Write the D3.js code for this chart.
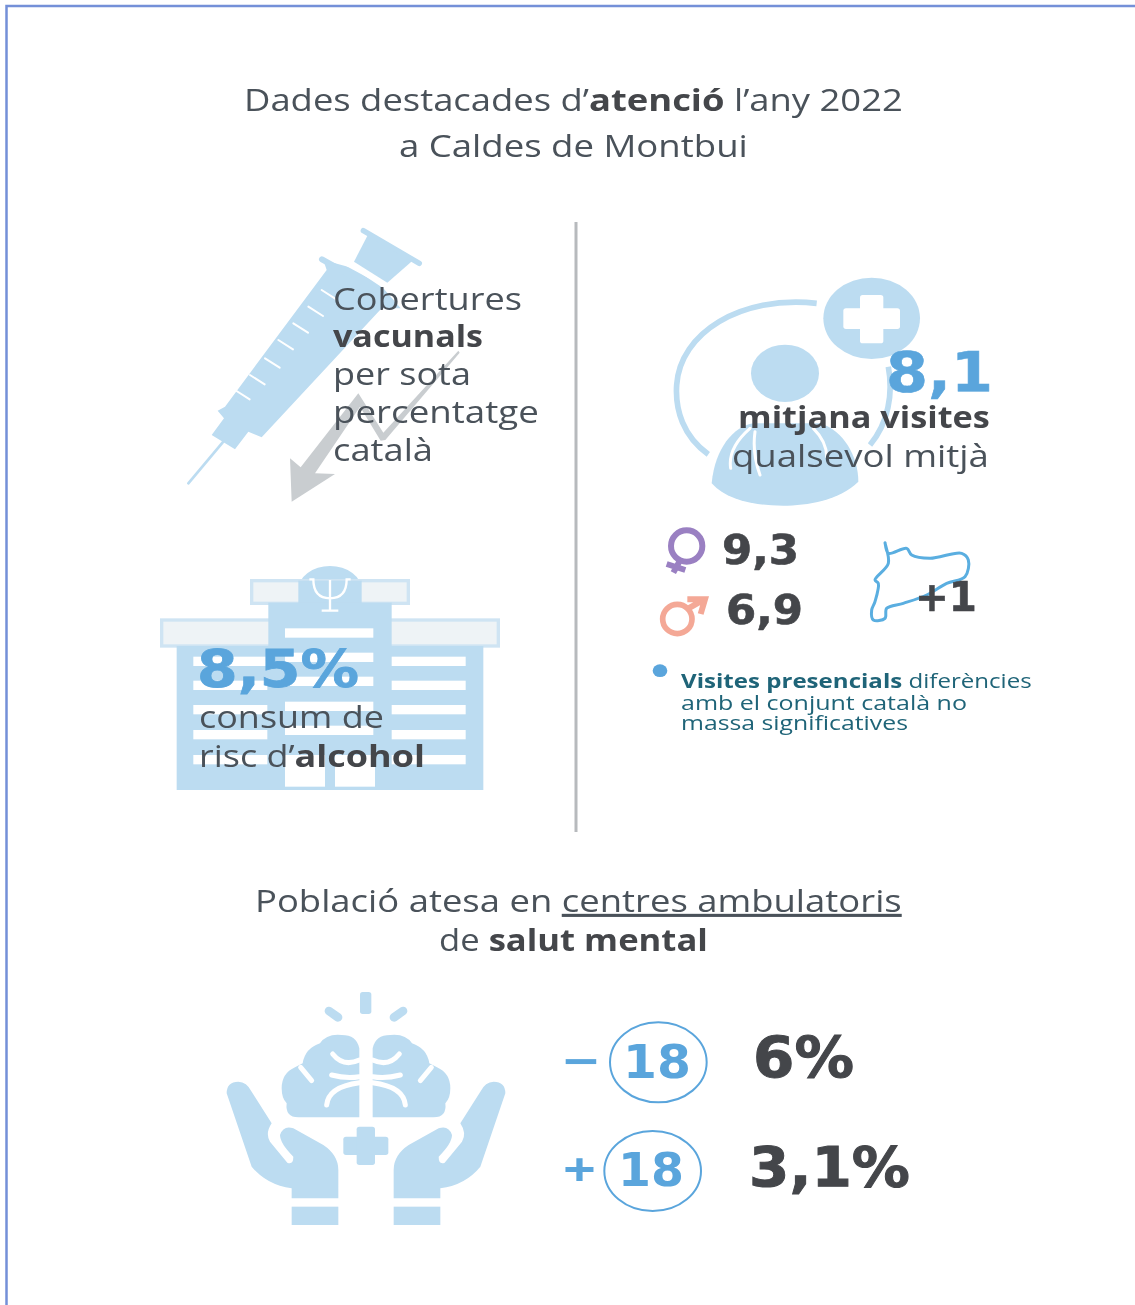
<!DOCTYPE html>
<html lang="ca">
<head>
<meta charset="utf-8">
<title>Dades destacades d'atenció 2022</title>
<script src="https://d3js.org/d3.v7.min.js"></script>
<style>
  html, body { margin: 0; padding: 0; background: #fff; }
  svg { display: block; filter: blur(0.5px); }
  text { font-family: "Open Sans", sans-serif; }
  text.figure { font-family: "DejaVu Sans", sans-serif; }
</style>
</head>
<body>
<div id="chart-area"></div>
<script>
// Values
const visitesMitjana = [8.1];
const visitesSexe = [9.3, 6.9];
const diferenciaCatalunya = [1];
const alcoholRisc = [8.5];
const ambulatoriEdat = ['−', '+'];
const ambulatoriEdatLimit = [18, 18];
const ambulatoriPercent = [6, 3.1];

const width = 1135;
const height = 1305;

const blue = '#bcdcf1';
const midBlue = '#5aa5dc';
const darkText = '#4a525a';
const boldText = '#44464a';
const tealText = '#1f6478';

// catalan number format
const ca = d3.formatLocale({ decimal: ',', thousands: '.', grouping: [3], currency: ['', '€'] });
const num = v => ca.format(Number.isInteger(v) ? 'd' : '.1f')(v);
const pct = v => num(v) + '%';

// Text lines. Parts are [string, style] where style: b bold, u underline
const titleLines = [
  [['Dades destacades d’', ''], ['atenció', 'b'], [' l’any 2022', '']],
  [['a Caldes de Montbui', '']]
];
const vacunaLines = [
  [['Cobertures', '']], [['vacunals', 'b']], [['per sota', '']], [['percentatge', '']], [['català', '']]
];
const visitesLines = [
  [['mitjana visites', 'b']], [['qualsevol mitjà', '']]
];
const presencialLines = [
  [['Visites presencials', 'b'], [' diferències', '']],
  [['amb el conjunt català no', '']],
  [['massa significatives', '']]
];
const alcoholLines = [
  [['consum de', '']], [['risc d’', ''], ['alcohol', 'b']]
];
const salutLines = [
  [['Població atesa en ', ''], ['centres ambulatoris', 'u']],
  [['de ', ''], ['salut mental', 'b']]
];

const svg = d3.select('#chart-area').append('svg')
  .attr('width', width)
  .attr('height', height);

svg.append('rect').attr('width', width).attr('height', height).attr('fill', '#fff');

// page frame, only top and left are in shot
svg.append('path')
  .attr('d', `M6.5 ${height} V6 H${width}`)
  .attr('fill', 'none')
  .attr('stroke', '#7490d8')
  .attr('stroke-width', 2.5);

// divider
svg.append('line')
  .attr('x1', 576).attr('x2', 576)
  .attr('y1', 222).attr('y2', 832)
  .attr('stroke', '#b7babd')
  .attr('stroke-width', 3);

// ---- ICONS ----
// every icon is drawn in the coordinates of a 3x crop of the page
const icon = (x, y) => svg.append('g').attr('transform', `translate(${x}, ${y}) scale(${1 / 3})`);

// syringe
const syringe = icon(150, 210);
syringe.append('line')
  .attr('x1', 115).attr('y1', 820).attr('x2', 220).attr('y2', 695)
  .attr('stroke', blue).attr('stroke-width', 8).attr('stroke-linecap', 'round');
syringe.append('path')
  .attr('fill', blue)
  .attr('d', 'M185 675 L222 625 L203 602 L225 590 L530 180 L520 150 L610 175 L700 235 L752 295 L695 295 L335 682 L295 665 L255 718 Z');
syringe.append('path')
  .attr('fill', blue)
  .attr('d', 'M655 72 L790 150 L712 218 L612 155 Z');
syringe.append('line')
  .attr('x1', 640).attr('y1', 62).attr('x2', 808).attr('y2', 160)
  .attr('stroke', blue).attr('stroke-width', 16).attr('stroke-linecap', 'round');
syringe.append('line')
  .attr('x1', 516).attr('y1', 148).attr('x2', 600).attr('y2', 195)
  .attr('stroke', blue).attr('stroke-width', 18).attr('stroke-linecap', 'round');
syringe.append('line')
  .attr('x1', 592).attr('y1', 165).attr('x2', 706).attr('y2', 226)
  .attr('stroke', '#fff').attr('stroke-width', 9);
syringe.selectAll('line.tick')
  .data([[255, 540], [300, 495], [345, 445], [385, 390], [430, 340], [475, 290], [515, 240]])
  .join('line')
  .attr('x1', d => d[0]).attr('y1', d => d[1]).attr('x2', d => d[0] + 44).attr('y2', d => d[1] + 28)
  .attr('stroke', '#fff').attr('stroke-width', 6).attr('stroke-linecap', 'round');
// falling arrow
syringe.append('path')
  .attr('fill', '#c9cdd0')
  .attr('d', 'M925 422 L700 668 L625 550 L452 772 L420 745 L425 875 L555 792 L495 790 L630 590 L692 692 L706 690 L929 428 Z');

// doctor
const doctor = icon(640, 260);
doctor.append('path')
  .attr('fill', 'none').attr('stroke', blue).attr('stroke-width', 17)
  .attr('d', 'M205 583 C130 530 105 450 110 375 C120 220 300 105 530 130');
doctor.append('path')
  .attr('fill', 'none').attr('stroke', blue).attr('stroke-width', 17)
  .attr('d', 'M745 320 C760 400 745 490 690 555');
doctor.append('ellipse')
  .attr('cx', 695).attr('cy', 175).attr('rx', 145).attr('ry', 122).attr('fill', blue);
doctor.selectAll('rect.cross')
  .data([[610, 145, 170, 62], [660, 105, 70, 145]])
  .join('rect')
  .attr('x', d => d[0]).attr('y', d => d[1]).attr('width', d => d[2]).attr('height', d => d[3])
  .attr('rx', 8).attr('fill', '#fff');
doctor.append('ellipse')
  .attr('cx', 435).attr('cy', 340).attr('rx', 102).attr('ry', 86).attr('fill', blue);
doctor.append('path')
  .attr('fill', blue)
  .attr('d', 'M215 670 C225 565 280 500 340 490 L540 490 C610 510 655 590 655 665 C600 720 500 737 430 737 C340 737 260 720 215 670 Z');
doctor.append('path')
  .attr('fill', 'none').attr('stroke', '#fff').attr('stroke-width', 9).attr('stroke-linecap', 'round')
  .attr('d', 'M330 505 C290 540 265 580 272 625 M360 645 C340 590 340 550 345 515 M520 505 C545 530 560 560 560 590');

// hospital
const hospital = icon(150, 560);
hospital.append('ellipse')
  .attr('cx', 540).attr('cy', 90).attr('rx', 95).attr('ry', 72).attr('fill', blue);
hospital.selectAll('rect.roof')
  .data([[305, 62, 470, 68], [35, 180, 1010, 78]])
  .join('rect')
  .attr('x', d => d[0]).attr('y', d => d[1]).attr('width', d => d[2]).attr('height', d => d[3])
  .attr('fill', '#eef3f6').attr('stroke', '#cfe4f3').attr('stroke-width', 10);
hospital.append('rect')
  .attr('x', 445).attr('y', 62).attr('width', 190).attr('height', 70).attr('fill', blue);
hospital.append('rect')
  .attr('x', 355).attr('y', 128).attr('width', 370).attr('height', 140).attr('fill', blue);
hospital.append('rect')
  .attr('x', 80).attr('y', 258).attr('width', 920).attr('height', 432).attr('fill', blue);
const windowColumns = [[130, 222, [290, 362, 435, 510, 585]], [405, 265, [205, 278, 350, 425, 497]], [725, 222, [290, 362, 435, 510, 585]]];
windowColumns.forEach(c => {
  hospital.selectAll(null)
    .data(c[2])
    .join('rect')
    .attr('x', c[0]).attr('y', d => d).attr('width', c[1]).attr('height', 28)
    .attr('fill', '#fff');
});
hospital.selectAll('rect.door')
  .data([405, 555])
  .join('rect')
  .attr('x', d => d).attr('y', 585).attr('width', 120).attr('height', 95).attr('fill', '#fff');
hospital.append('path')
  .attr('fill', 'none').attr('stroke', '#fff').attr('stroke-width', 7)
  .attr('d', 'M478 58 H490 C490 100 510 115 540 115 C570 115 590 100 590 58 H602 M540 60 V152 M515 152 H565');

// hands and brain, right side mirrored from the left one
const care = icon(210, 980);
const careSide = care.selectAll('g.side')
  .data([0, 1])
  .join('g')
  .attr('transform', d => d ? 'translate(936, 0) scale(-1, 1)' : null);
careSide.append('path')
  .attr('fill', blue)
  .attr('d', 'M50 340 Q50 305 85 305 Q110 305 125 335 L185 430 Q165 460 180 485 L232 548 Q250 555 250 530 Q210 490 210 465 Q220 435 250 445 L340 495 Q385 525 385 570 L385 655 L245 655 L245 625 Q170 615 125 560 Z');
careSide.append('rect')
  .attr('x', 245).attr('y', 680).attr('width', 140).attr('height', 55).attr('fill', blue);
careSide.append('path')
  .attr('fill', blue)
  .attr('d', 'M448 205 Q440 165 395 165 Q350 160 330 190 Q285 205 278 250 L255 262 Q215 280 215 325 Q215 355 230 370 Q225 412 265 412 L448 412 Z');
careSide.append('path')
  .attr('fill', 'none').attr('stroke', '#fff').attr('stroke-width', 15).attr('stroke-linecap', 'round')
  .attr('d', 'M368 222 Q400 262 448 240 M365 285 Q410 297 448 290 M350 375 Q355 320 448 308 M272 262 L305 302');
careSide.append('line')
  .attr('x1', 357).attr('y1', 93).attr('x2', 384).attr('y2', 112)
  .attr('stroke', blue).attr('stroke-width', 26).attr('stroke-linecap', 'round');
care.append('rect')
  .attr('x', 450).attr('y', 36).attr('width', 34).attr('height', 66).attr('rx', 8).attr('fill', blue);
care.selectAll('rect.plus')
  .data([[400, 470, 135, 55], [440, 440, 55, 115]])
  .join('rect')
  .attr('x', d => d[0]).attr('y', d => d[1]).attr('width', d => d[2]).attr('height', d => d[3])
  .attr('rx', 8).attr('fill', blue);

// gender symbols and map
const gender = icon(640, 520);
gender.append('circle')
  .attr('cx', 140).attr('cy', 78).attr('r', 47)
  .attr('fill', 'none').attr('stroke', '#9a80c2').attr('stroke-width', 18);
gender.append('path')
  .attr('fill', 'none').attr('stroke', '#9a80c2').attr('stroke-width', 18)
  .attr('d', 'M118 125 L100 158 M80 132 L136 150');
gender.append('circle')
  .attr('cx', 112).attr('cy', 297).attr('r', 44)
  .attr('fill', 'none').attr('stroke', '#f4a896').attr('stroke-width', 17);
gender.append('path')
  .attr('fill', 'none').attr('stroke', '#f4a896').attr('stroke-width', 18)
  .attr('d', 'M140 268 L190 240 M142 238 H195 L182 282');

const mapOutline = d3.line().curve(d3.curveCatmullRomClosed);
gender.append('path')
  .attr('fill', 'none').attr('stroke', '#5aaee0').attr('stroke-width', 9)
  .attr('d', mapOutline([[735, 68], [745, 100], [800, 85], [815, 105], [870, 115], [965, 100], [985, 120], [975, 170], [920, 190], [860, 225], [790, 250], [740, 265], [735, 295], [700, 300], [695, 270], [705, 245], [715, 190], [705, 180], [745, 130]]));

gender.append('ellipse')
  .attr('cx', 60).attr('cy', 452).attr('rx', 22).attr('ry', 19).attr('fill', midBlue);

// age ellipses
const ageRings = icon(550, 1010);
ageRings.selectAll('ellipse')
  .data(ambulatoriEdatLimit)
  .join('ellipse')
  .attr('cx', (d, i) => i ? 308 : 325)
  .attr('cy', (d, i) => i ? 483 : 157)
  .attr('rx', 145).attr('ry', 120)
  .attr('fill', 'none').attr('stroke', midBlue).attr('stroke-width', 6);

// ---- TEXT ----
// draws a line at font size fs, then stretches it so it fills x0..x1
const writeLine = (parts, x0, x1, y, fs, fill, boldFill, cls) => {
  const t = svg.append('text')
    .attr('class', cls || null)
    .attr('font-size', fs)
    .attr('fill', fill)
    .attr('transform', `translate(${x0}, ${y})`);
  parts.forEach(p => {
    t.append('tspan')
      .attr('font-weight', p[1] === 'b' ? 700 : 400)
      .attr('fill', p[1] === 'b' ? (boldFill || boldText) : fill)
      .attr('text-decoration', p[1] === 'u' ? 'underline' : null)
      .text(p[0]);
  });
  const w = t.node().getComputedTextLength();
  t.attr('transform', `translate(${x0}, ${y}) scale(${(x1 - x0) / w}, 1)`);
  return t;
};

// big figures use a heavier wide face, thickened a little with a stroke
const writeFigure = (label, x0, x1, y, fs, fill, heavy) => {
  writeLine([[label, 'b']], x0, x1, y, fs, fill, fill, 'figure')
    .attr('stroke', fill)
    .attr('stroke-width', heavy);
};

writeLine(titleLines[0], 244, 903, 111, 31, darkText);
writeLine(titleLines[1], 399, 748, 157, 31, darkText);

[[333, 522, 310], [333, 483, 347], [333, 471, 385], [333, 539, 423], [333, 433, 461]]
  .forEach((p, i) => writeLine(vacunaLines[i], p[0], p[1], p[2], 31, darkText));

writeFigure(num(visitesMitjana[0]), 886, 993, 391, 55, midBlue, 0.6);
writeLine(visitesLines[0], 738, 990, 428, 31, darkText);
writeLine(visitesLines[1], 732, 989, 467, 31, darkText);

writeFigure(num(visitesSexe[0]), 722, 799, 564, 41, boldText, 0.6);
writeFigure(num(visitesSexe[1]), 726, 803, 624, 41, boldText, 0.6);
writeFigure('+' + num(diferenciaCatalunya[0]), 915, 977, 611, 41, boldText, 0.6);

writeLine(presencialLines[0], 681, 1032, 688, 20, tealText, tealText);
writeLine(presencialLines[1], 681, 967, 710, 20, tealText);
writeLine(presencialLines[2], 681, 908, 730, 20, tealText);

writeFigure(pct(alcoholRisc[0]), 197, 359, 687, 52, midBlue, 0.8);
writeLine(alcoholLines[0], 199, 384, 728, 31, darkText);
writeLine(alcoholLines[1], 199, 425, 767, 31, darkText);

writeLine(salutLines[0], 255, 902, 912, 31, darkText);
writeLine(salutLines[1], 439, 708, 951, 31, darkText);

[[563, 599, 623, 691, 1078, 753, 854], [563, 596, 618, 684, 1186, 749, 910]].forEach((p, i) => {
  writeLine([[ambulatoriEdat[i], 'b']], p[0], p[1], p[4], 46, midBlue, midBlue);
  writeFigure(String(ambulatoriEdatLimit[i]), p[2], p[3], p[4], 46, midBlue, 0);
  writeFigure(pct(ambulatoriPercent[i]), p[5], p[6], p[4], 56, boldText, 1);
});
</script>
</body>
</html>
